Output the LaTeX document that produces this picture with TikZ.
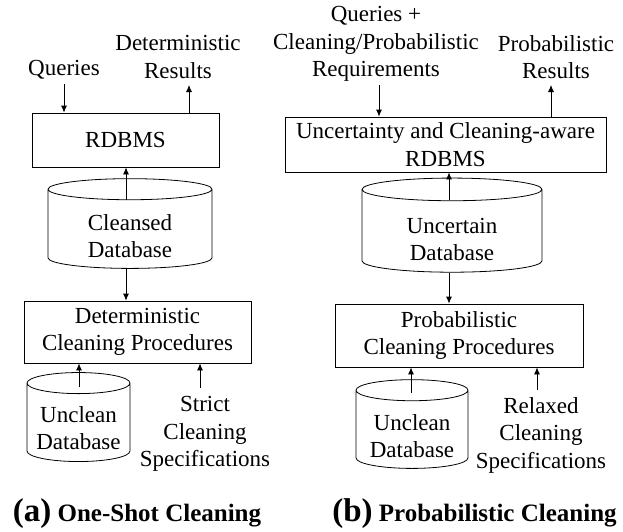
\documentclass[tikz,border=0pt]{standalone}
\usepackage{fontspec}
\setmainfont{Liberation Serif}
\usepackage{tikz}
\usetikzlibrary{shapes.geometric}
\usetikzlibrary{positioning}
\usetikzlibrary{arrows}
\usetikzlibrary{arrows.meta}
\tikzset{box/.style={draw,rectangle}}
\tikzset{db/.style={draw,cylinder,shape border rotate=90,aspect=0.25}}
\tikzset{captext/.style={font=\bfseries\fontsize{25}{28}\selectfont}}

\begin{document}
\begin{tikzpicture}[x=1pt,y=-1pt,>={Latex[length=7pt,width=6pt]},line width=0.8pt,
		every node/.style={font=\fontsize{23}{27.5}\selectfont,inner sep=0pt,align=center}]
		\useasboundingbox (0,0) rectangle (623,531);
		% (a) one-shot cleaning
		\node (QA) at (64,70) {Queries};
		\node (DA) at (178,57) {Deterministic\\Results};
		\node[box,minimum width=187pt,minimum height=54pt] (RA) at (125.5,140) {RDBMS};
		\node[db,minimum width=164pt,minimum height=78pt] (CA) at (130,229) {\rule{0pt}{30pt}Cleansed\\Database};
		\node[box,minimum width=227pt,minimum height=62pt] (PA) at (137.5,332) {Deterministic\\Cleaning Procedures};
		\node[db,minimum width=103pt,minimum height=89pt] (UA) at (78.5,422.5) {\rule{0pt}{27pt}Unclean\\Database};
		\node (SA) at (205,434) {Strict\\Cleaning\\Specifications};
		\node[captext] (CapA) at (137,514) {{\fontsize{33}{34}\selectfont(a)} One-Shot Cleaning};
		\coordinate (QAt) at (64,84);
		\coordinate (DAt) at (189,85);
		\coordinate (CAt) at (126,200);
		\coordinate (UAt) at (79,387);
		\coordinate (SAt) at (200,388);
		\path [->] (QAt) edge (QAt |- RA.north);
		\path [->] (DAt |- RA.north) edge (DAt);
		\path [->] (CAt) edge (CAt |- RA.south);
		\path [->] (CAt |- CA.bottom) edge (CAt |- PA.north);
		\path [->] (UAt) edge (UAt |- PA.south);
		\path [->] (SAt) edge (SAt |- PA.south);
		% (b) probabilistic cleaning
		\node (QB) at (376,44) {Queries +\\Cleaning/Probabilistic\\Requirements};
		\node (DB) at (556,57) {Probabilistic\\Results};
		\node[box,minimum width=321pt,minimum height=55pt] (RB) at (445.5,144.5) {Uncertainty and Cleaning-aware\\RDBMS};
		\node[db,minimum width=180pt,minimum height=82pt] (CB) at (452,231) {\rule{0pt}{32pt}Uncertain\\Database};
		\node[box,minimum width=248pt,minimum height=63pt] (PB) at (459,335.5) {Probabilistic\\Cleaning Procedures};
		\node[db,minimum width=112pt,minimum height=85pt] (UB) at (412,429.5) {\rule{0pt}{29pt}Unclean\\Database};
		\node (SB) at (541,435) {Relaxed\\Cleaning\\Specifications};
		\node[captext] (CapB) at (474.5,514) {{\fontsize{33}{34}\selectfont(b)} Probabilistic Cleaning};
		\coordinate (QBt) at (379,85);
		\coordinate (DBt) at (551,85);
		\coordinate (CBt) at (449,200);
		\coordinate (UBt) at (411,393);
		\coordinate (SBt) at (537,390);
		\path [->] (QBt) edge (QBt |- RB.north);
		\path [->] (DBt |- RB.north) edge (DBt);
		\path [->] (CBt) edge (CBt |- RB.south);
		\path [->] (CBt |- CB.bottom) edge (CBt |- PB.north);
		\path [->] (UBt) edge (UBt |- PB.south);
		\path [->] (SBt) edge (SBt |- PB.south);
	\end{tikzpicture}
\end{document}
